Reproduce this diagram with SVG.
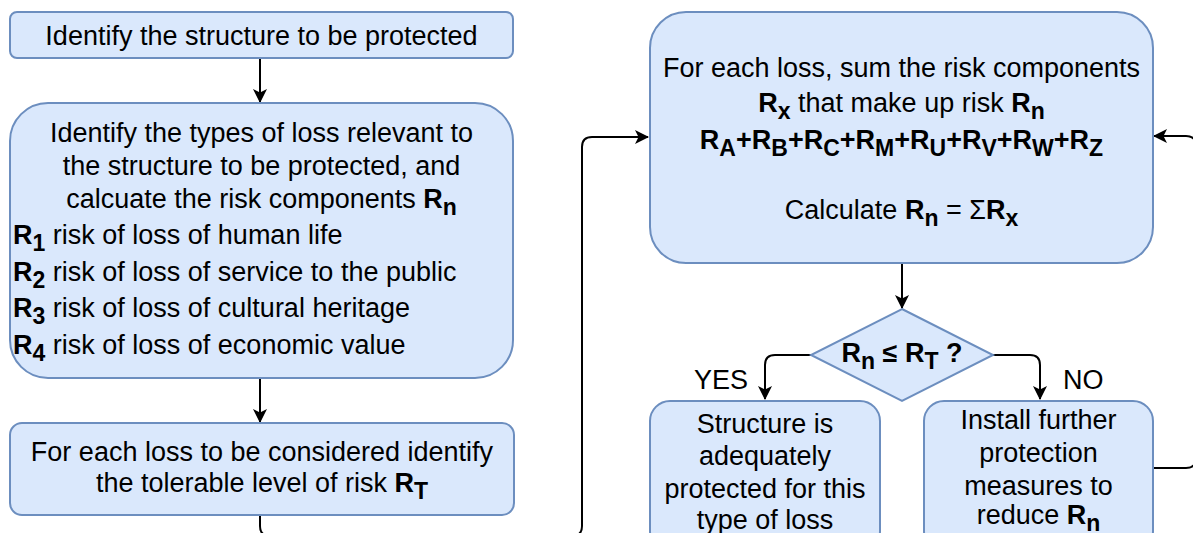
<svg xmlns="http://www.w3.org/2000/svg" width="1193" height="533" viewBox="0 0 1193 533">
<style>
.box{fill:#dae8fc;stroke:#6c8ebf;stroke-width:2}
text{font-family:"Liberation Sans",Arial,Helvetica,sans-serif;font-size:27px;fill:#000}
.c{text-anchor:middle}
.b{font-weight:bold}
.s{font-size:23px}
.conn{fill:none;stroke:#000;stroke-width:2}
</style>
<defs>
<marker id="arr" viewBox="0 0 14 14" refX="13" refY="7" markerWidth="14" markerHeight="14" markerUnits="userSpaceOnUse" orient="auto">
<path d="M0,0 L14,7 L0,14 L3.5,7 Z" fill="#000"/>
</marker>
</defs>
<rect width="1193" height="533" fill="#fff"/>
<g id="connectors">
<path class="conn" d="M260,58 L260,102" marker-end="url(#arr)"/>
<path class="conn" d="M260,378 L260,422" marker-end="url(#arr)"/>
<path class="conn" d="M260,515 L260,526 Q260,536 270,536 L572,536 Q582,536 582,526 L582,147 Q582,137 592,137 L648,137" marker-end="url(#arr)"/>
<path class="conn" d="M902,263 L902,308" marker-end="url(#arr)"/>
<path class="conn" d="M811,355 L775,355 Q765,355 765,365 L765,399" marker-end="url(#arr)"/>
<path class="conn" d="M993,355 L1030,355 Q1040,355 1040,365 L1040,399" marker-end="url(#arr)"/>
<path class="conn" d="M1153,468 L1186,468 Q1196,468 1196,458 L1196,146 Q1196,136 1186,136 L1154,136" marker-end="url(#arr)"/>
<text x="748" y="389" style="text-anchor:end">YES</text>
<text x="1063" y="389">NO</text>
</g>
<g id="n1">
<rect class="box" x="10" y="12" width="503" height="46" rx="7"/>
<text class="c" x="261.5" y="45">Identify the structure to be protected</text>
</g>
<g id="n2">
<rect class="box" x="10" y="103" width="503" height="275" rx="38"/>
<text class="c" x="261.5" y="142">Identify the types of loss relevant to</text>
<text class="c" x="261.5" y="175">the structure to be protected, and</text>
<text class="c" x="261.5" y="208">calcuate the risk components <tspan class="b">R<tspan class="s" dy="7">n</tspan></tspan></text>
<text x="13" y="244"><tspan class="b">R<tspan class="s" dy="7">1</tspan></tspan><tspan dy="-7"> risk of loss of human life</tspan></text>
<text x="13" y="281"><tspan class="b">R<tspan class="s" dy="7">2</tspan></tspan><tspan dy="-7"> risk of loss of service to the public</tspan></text>
<text x="13" y="317"><tspan class="b">R<tspan class="s" dy="7">3</tspan></tspan><tspan dy="-7"> risk of loss of cultural heritage</tspan></text>
<text x="13" y="354"><tspan class="b">R<tspan class="s" dy="7">4</tspan></tspan><tspan dy="-7"> risk of loss of economic value</tspan></text>
</g>
<g id="n3">
<rect class="box" x="10" y="423" width="504" height="92" rx="12"/>
<text class="c" x="262" y="461">For each loss to be considered identify</text>
<text class="c" x="262" y="492">the tolerable level of risk <tspan class="b">R<tspan class="s" dy="7">T</tspan></tspan></text>
</g>
<g id="n4">
<rect class="box" x="650" y="12" width="503" height="251" rx="36"/>
<text class="c" x="901.5" y="77">For each loss, sum the risk components</text>
<text class="c" x="901.5" y="112"><tspan class="b">R<tspan class="s" dy="7">x</tspan></tspan><tspan dy="-7"> that make up risk </tspan><tspan class="b">R<tspan class="s" dy="7">n</tspan></tspan></text>
<text class="c b" x="901.5" y="149">R<tspan class="s" dy="7">A</tspan><tspan dy="-7">+R</tspan><tspan class="s" dy="7">B</tspan><tspan dy="-7">+R</tspan><tspan class="s" dy="7">C</tspan><tspan dy="-7">+R</tspan><tspan class="s" dy="7">M</tspan><tspan dy="-7">+R</tspan><tspan class="s" dy="7">U</tspan><tspan dy="-7">+R</tspan><tspan class="s" dy="7">V</tspan><tspan dy="-7">+R</tspan><tspan class="s" dy="7">W</tspan><tspan dy="-7">+R</tspan><tspan class="s" dy="7">Z</tspan></text>
<text class="c" x="901.5" y="219">Calculate <tspan class="b">R<tspan class="s" dy="7">n</tspan></tspan><tspan dy="-7"> = Σ</tspan><tspan class="b">R<tspan class="s" dy="7">x</tspan></tspan></text>
</g>
<g id="n5">
<polygon class="box" points="902,309 993,355 902,401 811,355"/>
<text class="c b" x="902" y="362">R<tspan class="s" dy="7">n</tspan><tspan dy="-7"> ≤ R</tspan><tspan class="s" dy="7">T</tspan><tspan dy="-7"> ?</tspan></text>
</g>
<g id="n6">
<rect class="box" x="650" y="401" width="230" height="150" rx="20"/>
<text class="c" x="765" y="433">Structure is</text>
<text class="c" x="765" y="465">adequately</text>
<text class="c" x="765" y="498">protected for this</text>
<text class="c" x="765" y="529">type of loss</text>
</g>
<g id="n7">
<rect class="box" x="924" y="401" width="229" height="150" rx="20"/>
<text class="c" x="1038.5" y="429">Install further</text>
<text class="c" x="1038.5" y="462">protection</text>
<text class="c" x="1038.5" y="495">measures to</text>
<text class="c" x="1038.5" y="524">reduce <tspan class="b">R<tspan class="s" dy="7">n</tspan></tspan></text>
</g>
</svg>
